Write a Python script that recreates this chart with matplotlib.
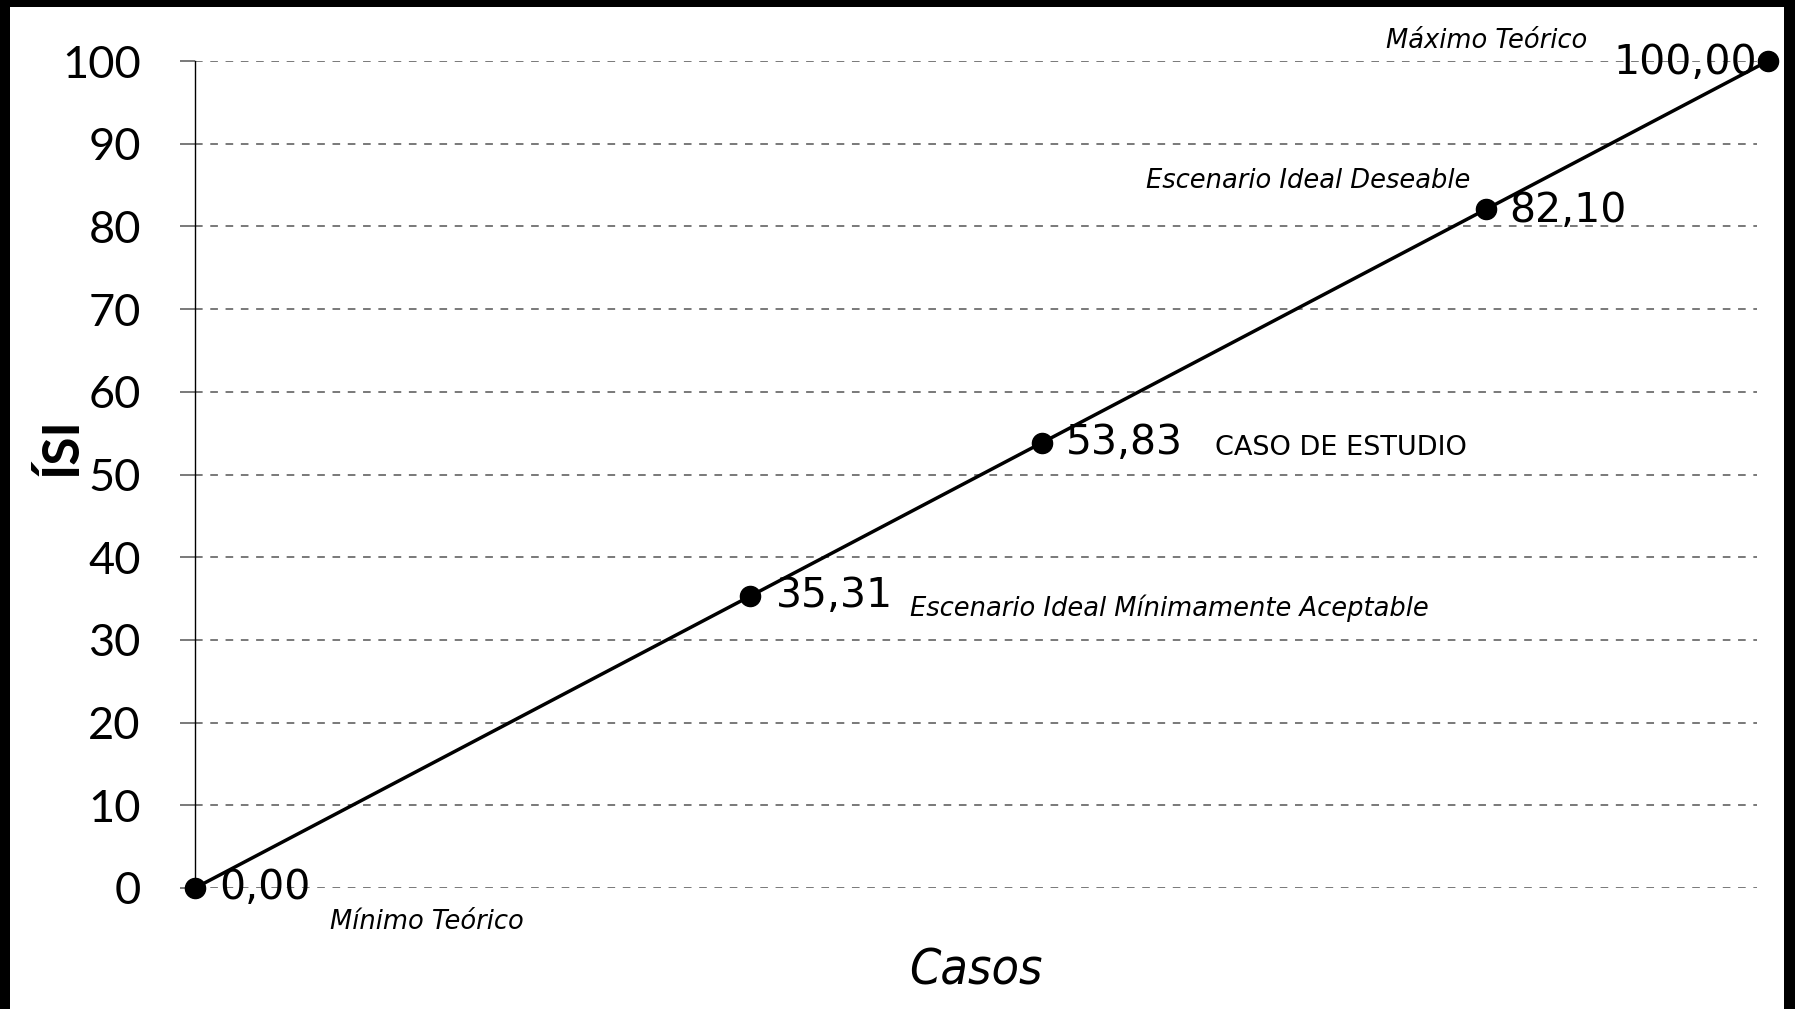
import matplotlib
matplotlib.use('Agg')
import matplotlib.pyplot as plt
from matplotlib.patches import Rectangle

# Chart data: case positions and ISI values
casos = [0.0, 35.31, 53.83, 82.10, 100.0]
isi = [0.0, 35.31, 53.83, 82.10, 100.0]
value_labels = ['0,00', '35,31', '53,83', '82,10', '100,00']
names = ['Mínimo Teórico', 'Escenario Ideal Mínimamente Aceptable', 'CASO DE ESTUDIO',
         'Escenario Ideal Deseable', 'Máximo Teórico']
y_ticks = [0, 10, 20, 30, 40, 50, 60, 70, 80, 90, 100]

fig = plt.figure(figsize=(17.95, 10.09), dpi=100, facecolor='black')
# white canvas inside the black frame
fig.add_artist(Rectangle((10 / 1795, 0), (1784 - 10) / 1795, 1 - 7 / 1009,
                         transform=fig.transFigure, facecolor='white',
                         edgecolor='none', zorder=-10))

ax = fig.add_axes([195 / 1795, 1 - 888 / 1009, (1757 - 195) / 1795, (888 - 61) / 1009])
ax.set_facecolor('none')

ax.plot(casos, isi, color='black', lw=2.5, marker='o', markersize=14.5,
        clip_on=False, zorder=5)

ax.set_xlim(0, 99.3)
ax.set_ylim(0, 100)
ax.set_yticks(y_ticks)
ax.set_xticks([])
ax.yaxis.grid(True, linestyle=(0, (5, 5)), color='#555555', lw=1.1)
ax.set_axisbelow(True)
for side in ['top', 'right', 'bottom']:
    ax.spines[side].set_visible(False)
ax.spines['left'].set_linewidth(1.0)
ax.tick_params(axis='y', length=11, width=1.1, color='#555555', pad=28,
               labelsize=32.5)
for lbl in ax.get_yticklabels():
    lbl.set_family('Lato')

ax.set_ylabel('ÍSI', fontsize=37, fontweight='bold', family='Lato')
ax.yaxis.set_label_coords(-0.07, 0.534)
ax.set_xlabel('Casos', fontsize=36, style='italic', family='DejaVu Sans',
              fontstretch='condensed', labelpad=42)

# value labels next to each point (offsets in pixels)
value_offsets = [(24, 0, 'left'), (26, 0, 'left'), (24, 0, 'left'),
                 (23, -2, 'left'), (-11, -2, 'right')]
for x, y, txt, (dx, dy, ha) in zip(casos, isi, value_labels, value_offsets):
    ax.annotate(txt, (x, y), xytext=(dx, dy), textcoords='offset pixels',
                ha=ha, va='center', fontsize=29.5, family='DejaVu Sans',
                annotation_clip=False, zorder=6)

# scenario names
name_offsets = [(135, -34, 'left'), (160, -12, 'left'), (173, -5, 'left'),
                (-16, 28, 'right'), (-181, 20, 'right')]
for x, y, txt, (dx, dy, ha) in zip(casos, isi, names, name_offsets):
    if txt == 'CASO DE ESTUDIO':
        kw = dict(fontsize=19.5, family='DejaVu Sans')
    else:
        kw = dict(fontsize=18.5, style='italic', family='DejaVu Sans')
    ax.annotate(txt, (x, y), xytext=(dx, dy), textcoords='offset pixels',
                ha=ha, va='center', annotation_clip=False, **kw)

fig.savefig('out.png', dpi=100, facecolor=fig.get_facecolor())
